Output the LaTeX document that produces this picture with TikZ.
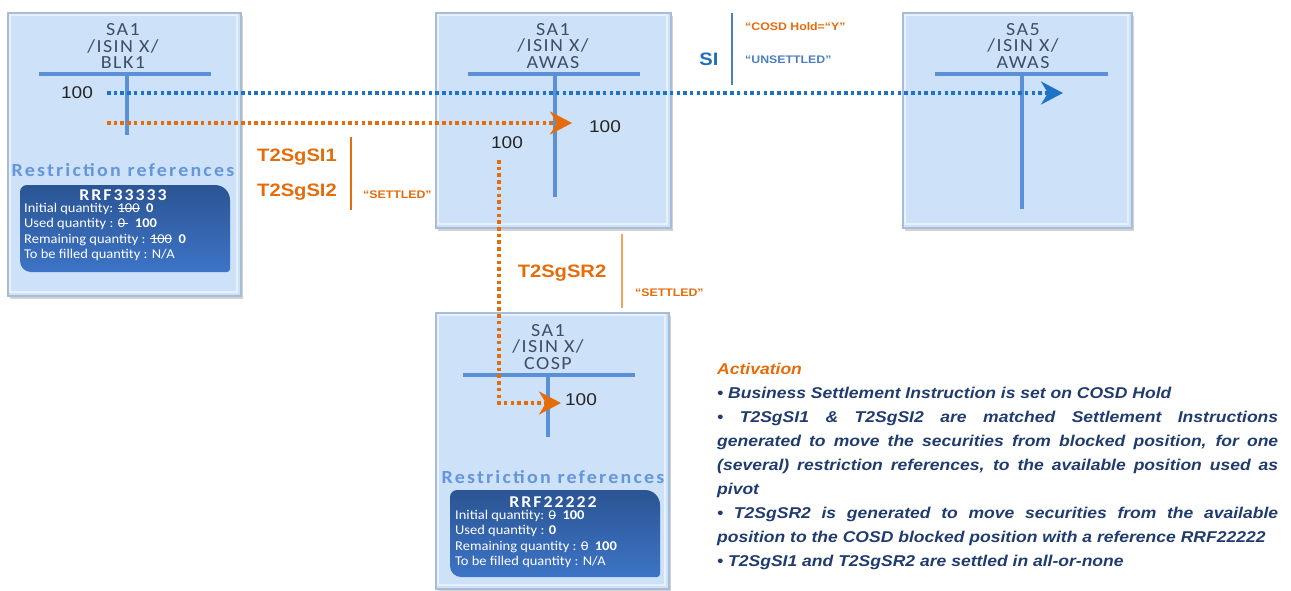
\documentclass[tikz,border=0pt]{standalone}
\usepackage{fontspec}
\setmainfont{Liberation Sans}[FakeStretch=1.12]
\newfontfamily\calfont{Carlito}[FakeStretch=1.08]
\newfontfamily\calsp{Carlito}[FakeStretch=1.08,LetterSpace=8]
\newfontfamily\calwide{Carlito}[FakeStretch=1.08,LetterSpace=12]
\usetikzlibrary{arrows.meta,shadows}
\definecolor{boxfill}{HTML}{CDE1F8}
\definecolor{boxedge}{HTML}{A7BCD6}
\definecolor{barblue}{HTML}{5B8FD6}
\definecolor{rrblue}{HTML}{6496DA}
\definecolor{dotblue}{HTML}{1F73C7}
\definecolor{orng}{HTML}{E46C0A}
\definecolor{lorng}{HTML}{F2A25E}
\definecolor{hdrc}{HTML}{3E4E68}
\definecolor{navy}{HTML}{203C6E}
\definecolor{rrtop}{HTML}{2B5593}
\definecolor{rrbot}{HTML}{3D74C6}
\definecolor{lblue}{HTML}{4A7FC1}
\definecolor{siblue}{HTML}{1F6FC0}
\newcommand\stk[1]{\begingroup\setbox0\hbox{#1}\rlap{\rule[0.3em]{\wd0}{0.8pt}}\box0\endgroup}
\begin{document}
\begin{tikzpicture}[x=1pt,y=-1pt,
  acct/.style={draw=boxedge, line width=1.5pt, fill=boxfill, inner sep=0pt,
     drop shadow={shadow xshift=2pt, shadow yshift=-3pt, opacity=0.35}},
  bevel/.style={draw=white, line width=1.5pt, opacity=0.55},
  hdr/.style={font=\calsp\fontsize{18.5}{16.5}\selectfont, text=hdrc, align=center, inner sep=0pt},
  bar/.style={draw=barblue, line width=4pt},
  num/.style={font=\fontsize{17}{17}\selectfont, text=black!85, inner sep=0pt},
  rrtitle/.style={font=\calwide\bfseries\fontsize{18.5}{18.5}\selectfont, text=rrblue, inner sep=0pt},
  rrhead/.style={font=\calwide\bfseries\fontsize{16.5}{16.5}\selectfont, text=white, inner sep=0pt},
  rrrow/.style={font=\calfont\fontsize{13.4}{15.4}\selectfont, text=white, align=left, inner sep=0pt, anchor=north west},
  bluedot/.style={draw=dotblue, line width=3.5pt, dash pattern=on 3.5pt off 3.2pt},
  orngdot/.style={draw=orng, line width=3.5pt, dash pattern=on 3.5pt off 3.2pt},
  tipb/.style={-{Stealth[length=22pt,width=23pt,inset=7pt]}},
  big/.style={font=\bfseries\fontsize{18}{18}\selectfont, inner sep=0pt},
  small/.style={font=\bfseries\fontsize{11}{11}\selectfont, inner sep=0pt, anchor=west},
  act/.style={font=\bfseries\itshape\fontsize{15.65}{16}\selectfont, text=navy, inner sep=0pt, anchor=base west}
]
\useasboundingbox (0,0) rectangle (1291,590);

% account boxes
\node[acct, minimum width=233pt, minimum height=283pt, anchor=north west] (A1) at (7,12) {};
\node[acct, minimum width=235pt, minimum height=215pt, anchor=north west] (A2) at (435,12) {};
\node[acct, minimum width=229pt, minimum height=215pt, anchor=north west] (A3) at (902,12) {};
\node[acct, minimum width=233pt, minimum height=276pt, anchor=north west] (A4) at (435,312) {};
\draw[bevel] (10,15) rectangle (237,292);
\draw[bevel] (438,15) rectangle (667,224);
\draw[bevel] (905,15) rectangle (1128,224);
\draw[bevel] (438,315) rectangle (665,585);

% headers
\node[hdr] (H1) at (123,46) {SA1\\/ISIN X/\\BLK1};
\node[hdr] (H2) at (553,46) {SA1\\/ISIN X/\\AWAS};
\node[hdr] (H3) at (1023,46) {SA5\\/ISIN X/\\AWAS};
\node[hdr] (H4) at (548,347) {SA1\\/ISIN X/\\COSP};

% T bars
\draw[bar] (39,74) -- (211,74);   \draw[bar] (127,74) -- (127,135);
\draw[bar] (468,74) -- (640,74);  \draw[bar] (555,74) -- (555,197);
\draw[bar] (935,74) -- (1108,74); \draw[bar] (1022,74) -- (1022,209);
\draw[bar] (463,375) -- (635,375); \draw[bar] (548,375) -- (548,437);

% numbers
\node[num] (n1) at (77,93) {100};
\node[num] (n2) at (605,127) {100};
\node[num] (n3) at (507,143) {100};
\node[num] (n4) at (581,400) {100};

% restriction references
\node[rrtitle] (R1) at (123,170) {Restriction references};
\node[rrtitle] (R4) at (553,477) {Restriction references};
\shade[top color=rrtop, bottom color=rrbot] (20,230) [rounded corners=7pt] -- (20,185) [rounded corners=15pt] -- (230,185) [rounded corners=3pt] -- (230,272) [rounded corners=11pt] -- (20,272) -- cycle;
\shade[top color=rrtop, bottom color=rrbot] (450,530) [rounded corners=7pt] -- (450,490) [rounded corners=15pt] -- (660,490) [rounded corners=3pt] -- (660,577) [rounded corners=11pt] -- (450,577) -- cycle;
\node[rrhead] (K1) at (123,195) {RRF33333};
\node[rrrow] (L1) at (24,203) {Initial quantity: \stk{100}\ \ \textbf{0}\\
Used quantity : \stk{0\ }\ \ \textbf{100}\\
Remaining quantity : \stk{100}\ \ \textbf{0}\\
To be filled quantity : N/A};
\node[rrhead] (K4) at (553,502) {RRF22222};
\node[rrrow] (L4) at (455,510) {Initial quantity: \stk{0}\ \ \textbf{100}\\
Used quantity : \textbf{0}\\
Remaining quantity : \stk{0}\ \ \textbf{100}\\
To be filled quantity : N/A};

% connectors
\coordinate (bs) at (107,93);
\coordinate (be) at (1063,93);
\draw[bluedot, tipb] (bs) -- (be);
\coordinate (os) at (107,123);
\coordinate (oe) at (572,123);
\draw[orngdot, tipb] (os) -- (oe);
\coordinate (vs) at (499,160);
\coordinate (vc) at (499,403);
\coordinate (ve) at (561,403);
\draw[orngdot, tipb] (vs) -- (vc) -- (ve);

% SI labels
\node[big, text=siblue] (SI) at (709,59) {SI};
\coordinate (sit) at (732,13);
\coordinate (sib) at (732,85);
\draw[lblue, line width=1.2pt] (sit) -- (sib);
\node[small, text=orng] (cosd) at (745,27) {“COSD Hold=“Y”};
\node[small, text=lblue] (uns) at (745,60) {“UNSETTLED”};

% T2SgSI labels
\node[big, text=orng] (si1) at (297,157) {T2SgSI1};
\node[big, text=orng] (si2) at (297,192) {T2SgSI2};
\coordinate (l1t) at (351,137);
\coordinate (l1b) at (351,210);
\draw[orng, line width=1.2pt] (l1t) -- (l1b);
\node[small, text=orng] (st1) at (363,195) {“SETTLED”};

\node[big, text=orng] (sr2) at (562,273) {T2SgSR2};
\coordinate (l2t) at (622,234);
\coordinate (l2b) at (622,308);
\draw[lorng, line width=1.2pt] (l2t) -- (l2b);
\node[small, text=orng] (st2) at (635,293) {“SETTLED”};

% Activation text
\node[act, text=orng] (a0) at (717,374) {Activation};
\node[act] (a1) at (717,398) {• Business Settlement Instruction is set on COSD Hold};
\node[act] (a2) at (717,422) {\makebox[561pt][s]{• T2SgSI1 \& T2SgSI2 are matched Settlement Instructions}};
\node[act] (a3) at (717,446) {\makebox[561pt][s]{generated to move the securities from blocked position, for one}};
\node[act] (a4) at (717,470) {\makebox[561pt][s]{(several) restriction references, to the available position used as}};
\node[act] (a5) at (717,494) {pivot};
\node[act] (a6) at (717,518) {\makebox[561pt][s]{• T2SgSR2 is generated to move securities from the available}};
\node[act] (a7) at (717,542) {position to the COSD blocked position with a reference RRF22222};
\node[act] (a8) at (717,566) {• T2SgSI1 and T2SgSR2 are settled in all-or-none};
\end{tikzpicture}
\end{document}
